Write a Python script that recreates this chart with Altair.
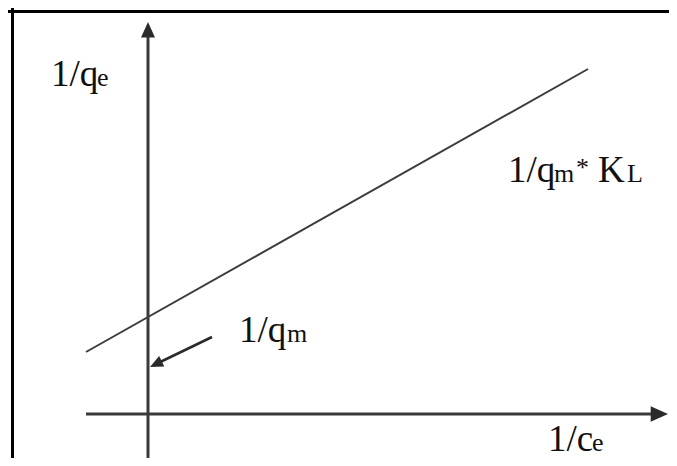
import altair as alt
import pandas as pd

# ---- data (schematic units: origin at the axes' crossing) ----
# straight segments: axes, Langmuir line, pointer arrow
seg_name = ["y_axis", "x_axis", "fit_line", "pointer"]
seg_x1 = [0.0, -0.62, -0.62, 0.64]
seg_y1 = [-0.46, 0.0, 0.62, 0.77]
seg_x2 = [0.0, 5.08, 4.40, 0.06]
seg_y2 = [3.86, 0.0, 3.45, 0.49]

# picture frame (left and top edges only)
frame_left_x = [-1.355]
frame_top_y = [4.025]

# arrow tips
tip_name = ["y_axis", "x_axis", "pointer"]
tip_x = [0.0, 5.20, 0.02]
tip_y = [3.92, 0.0, 0.47]
tip_angle = [270, 0, 154]

# text pieces (large and reduced)
big_text = ["1/q", "1/q", "1/q", "K", "1/c"]
big_x = [-0.97, 0.91, 3.60, 4.50, 4.00]
big_y = [3.28, 0.72, 2.32, 2.32, -0.37]
small_text = ["e", "m", "m", "*", "L", "e"]
small_x = [-0.51, 1.39, 4.06, 4.28, 4.79, 4.44]
small_y = [3.28, 0.72, 2.32, 2.38, 2.32, -0.37]

segs = pd.DataFrame({"name": seg_name, "x1": seg_x1, "y1": seg_y1,
                     "x2": seg_x2, "y2": seg_y2})
tips = pd.DataFrame({"name": tip_name, "x": tip_x, "y": tip_y, "angle": tip_angle})
big = pd.DataFrame({"t": big_text, "x": big_x, "y": big_y})
small = pd.DataFrame({"t": small_text, "x": small_x, "y": small_y})

W, H = 661, 450
xs = alt.Scale(domain=[-1.40, 5.21], nice=False, zero=False)
ys = alt.Scale(domain=[-0.44, 4.06], nice=False, zero=False)
X = lambda f: alt.X(f, type="quantitative", scale=xs, axis=None)
Y = lambda f: alt.Y(f, type="quantitative", scale=ys, axis=None)
SERIF = "Liberation Serif"

def seg_layer(names, color, width):
    return alt.Chart(segs).transform_filter(
        alt.FieldOneOfPredicate(field="name", oneOf=names)
    ).mark_rule(color=color, strokeWidth=width).encode(
        x=X("x1"), y=Y("y1"), x2="x2", y2="y2"
    )

ARROW = "M0,0L-2,-0.9L-2,0.9Z"

def tip_layer(name, size):
    return alt.Chart(tips).transform_filter(
        alt.datum.name == name
    ).mark_point(shape=ARROW, filled=True, color="#2a2a2a", opacity=1,
                 size=size).encode(
        x=X("x"), y=Y("y"), angle=alt.Angle("angle:Q", scale=None)
    )

frame_l = alt.Chart(pd.DataFrame({"x": frame_left_x})).mark_rule(
    color="#000000", strokeWidth=3).encode(x=X("x"))
frame_t = alt.Chart(pd.DataFrame({"y": frame_top_y})).mark_rule(
    color="#000000", strokeWidth=3).encode(y=Y("y"))
axes = seg_layer(["y_axis", "x_axis"], "#3a3a3a", 3)
fit = seg_layer(["fit_line"], "#3c3c3c", 2)
pointer = seg_layer(["pointer"], "#2a2a2a", 2.5)

tips_layers = tip_layer("y_axis", 240) + tip_layer("x_axis", 300) + tip_layer("pointer", 170)

big_lbl = alt.Chart(big).mark_text(
    font=SERIF, fontSize=37, align="left", baseline="alphabetic",
    color="#111111"
).encode(x=X("x"), y=Y("y"), text="t:N")

small_lbl = alt.Chart(small).mark_text(
    font=SERIF, fontSize=26, align="left", baseline="alphabetic",
    color="#111111"
).encode(x=X("x"), y=Y("y"), text="t:N")

chart = alt.layer(frame_l, frame_t, axes, fit, pointer, tips_layers, big_lbl, small_lbl).properties(
    width=W, height=H, autosize=alt.AutoSizeParams(type="none"), padding=0,
    background="white"
).configure_view(stroke=None)

chart.save("out.html", embed_options={"renderer": "svg", "actions": False})
